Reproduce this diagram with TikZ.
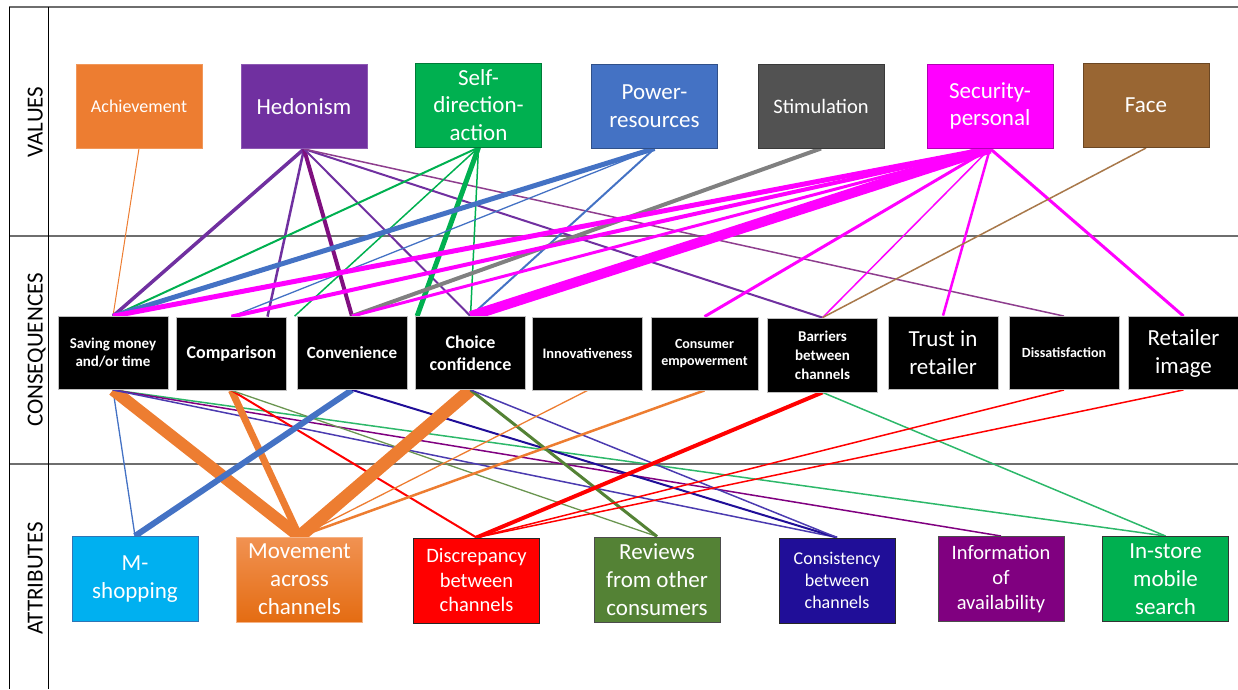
\documentclass[tikz,border=0pt]{standalone}
\usepackage{fontspec}
\setmainfont{Carlito}
\pgfdeclarelayer{bg}
\pgfsetlayers{bg,main}
% box fills
\definecolor{cAch}{HTML}{ED7D31}
\definecolor{cHed}{HTML}{7030A0}
\definecolor{cHedD}{HTML}{7F0F7F}
\definecolor{cHedL}{HTML}{8E3E8E}
\definecolor{cSda}{HTML}{00B050}
\definecolor{cPow}{HTML}{4472C4}
\definecolor{cSti}{HTML}{525252}
\definecolor{cStiL}{HTML}{808080}
\definecolor{cSec}{HTML}{FF00FF}
\definecolor{cFac}{HTML}{996633}
\definecolor{cFacL}{HTML}{A8784A}
\definecolor{cMsh}{HTML}{00B0F0}
\definecolor{cMshB}{HTML}{2E75B6}
\definecolor{cMovT}{HTML}{F19252}
\definecolor{cMovB}{HTML}{E46C12}
\definecolor{cDsc}{HTML}{FF0000}
\definecolor{cRev}{HTML}{548235}
\definecolor{cRevL}{HTML}{6A9550}
\definecolor{cCst}{HTML}{200E98}
\definecolor{cCstL}{HTML}{4B3BB0}
\definecolor{cInf}{HTML}{800080}
\definecolor{cIns}{HTML}{00B050}
\definecolor{cInsL}{HTML}{2DB86A}
\definecolor{cFrame}{HTML}{6E6E6E}
\begin{document}
\begin{tikzpicture}[x=1pt,y=-1pt,
  valbox/.style={draw=#1!70!black, fill=#1, line width=1pt, minimum width=126pt, minimum height=84pt,
    inner sep=0pt, text=white, align=center, font=\fontsize{23}{27.5}\selectfont},
  conbox/.style={draw=gray!50, fill=black, line width=0.8pt, minimum width=110pt, minimum height=73pt,
    inner sep=0pt, text=white, align=center},
  attbox/.style={draw=#1!70!black, fill=#1, line width=1pt, minimum width=126pt, minimum height=85pt,
    inner sep=0pt, text=white, align=center, font=\fontsize{23}{28}\selectfont},
  rowlabel/.style={rotate=90, anchor=base, font=\fontsize{23}{27}\selectfont},
  lk/.style 2 args={draw=#1, line width=#2}
]
\useasboundingbox (0,0) rectangle (1238,689);

% ---------- values ----------
\node[valbox=cAch, draw=cAch!80!white, font=\fontsize{18}{22}\selectfont] (ach) at (139,106) {Achievement};
\node[valbox=cHed, draw=cHed!80!white] (hed) at (304,106.5) {Hedonism};
\node[valbox=cSda] (sda) at (478.5,105) {Self-\\direction-\\action};
\node[valbox=cPow] (pow) at (654.5,106) {Power-\\resources};
\node[valbox=cSti, font=\fontsize{20.5}{25}\selectfont] (sti) at (821,106) {Stimulation};
\node[valbox=cSec] (sec) at (990,106) {Security-\\personal};
\node[valbox=cFac] (fac) at (1146,105.5) {Face};

% ---------- consequences ----------
\node[conbox, font=\bfseries\fontsize{15}{18}\selectfont] (sav) at (113,353) {Saving money\\and/or time};
\node[conbox, font=\bfseries\fontsize{18}{22}\selectfont] (cmp) at (231.5,353.5) {Comparison};
\node[conbox, font=\bfseries\fontsize{17}{21}\selectfont] (cnv) at (352,353) {Convenience};
\node[conbox, font=\bfseries\fontsize{18}{22}\selectfont] (cho) at (470.5,353) {Choice\\confidence};
\node[conbox, font=\bfseries\fontsize{14.5}{18}\selectfont] (inn) at (587.5,353.5) {Innovativeness};
\node[conbox, font=\bfseries\fontsize{14}{17.5}\selectfont, minimum width=107pt] (emp) at (704.5,353.5) {Consumer\\empowerment};
\node[conbox, font=\bfseries\fontsize{15}{19}\selectfont, minimum height=74pt] (bar) at (822.5,355) {Barriers\\between\\channels};
\node[conbox, font=\fontsize{23}{28}\selectfont] (tru) at (943,352.5) {Trust in\\retailer};
\node[conbox, font=\bfseries\fontsize{14}{17}\selectfont] (dis) at (1064,353) {Dissatisfaction};
\node[conbox, font=\fontsize{23}{28}\selectfont] (ret) at (1183.5,353) {Retailer\\image};

% ---------- attributes ----------
\node[attbox=cMsh, draw=cMshB] (msh) at (135,579) {M-\\shopping};
\node[attbox=cMovB, draw=cMovT!70!white, top color=cMovT, bottom color=cMovB] (mov) at (299.5,579.5) {Movement\\across\\channels};
\node[attbox=cDsc, draw=black!85, font=\fontsize{20.5}{24.5}\selectfont] (dsc) at (476.5,580.5) {Discrepancy\\between\\channels};
\node[attbox=cRev, draw=black!70] (rev) at (657,579.5) {Reviews\\from other\\consumers};
\node[attbox=cCst, draw=black!85, minimum width=116pt, font=\fontsize{18}{22}\selectfont] (cst) at (837,580.5) {Consistency\\between\\channels};
\node[attbox=cInf, draw=black!70, font=\fontsize{20.5}{25}\selectfont] (inf) at (1001,579) {Information\\of\\availability};
\node[attbox=cIns, draw=black!80] (ins) at (1165.5,579) {In-store\\mobile\\search};

% ---------- row labels ----------
\node[rowlabel] (lv) at (42.5,122) {VALUES};
\node[rowlabel] (lc) at (42.5,350) {CONSEQUENCES};
\node[rowlabel] (la) at (42.5,578.5) {ATTRIBUTES};

\begin{pgfonlayer}{bg}
  % frame of the three bands
  \draw[cFrame, line width=1.6pt] (9,7) -- (1238,7);
  \draw[cFrame, line width=1.6pt] (9,236) -- (1238,236);
  \draw[cFrame, line width=1.6pt] (9,464) -- (1238,464);
  \draw[black, line width=1.2pt] (9.5,6.5) -- (9.5,689);
  \draw[black, line width=1.2pt] (48.5,7) -- (48.5,689);

  % values -> consequences
  \draw[lk={cAch}{1}] (ach.south) -- (sav.north);

  \draw[lk={cHed}{3.5}] (hed.south) -- (sav.north);
  \draw[lk={cHed}{2.5}] (hed.south) -- ([xshift=36pt]cmp.north);
  \draw[lk={cHedD}{4}] (hed.south) -- (cnv.north);
  \draw[lk={cHed}{2}] (hed.south) -- (cho.north);
  \draw[lk={cHed}{2}] (hed.south) -- (bar.north);
  \draw[lk={cHedL}{1.5}] (hed.south) -- (dis.north);

  \draw[lk={cSda}{2}] (sda.south) -- (sav.north);
  \draw[lk={cSda}{1.5}] (sda.south) -- ([xshift=-2pt]cnv.north west);
  \draw[lk={cSda}{5}] (sda.south) -- ([xshift=2pt]cho.north west);
  \draw[lk={cSda}{1.5}] (sda.south) -- (cho.north);

  \draw[lk={cPow}{5}] (pow.south) -- (sav.north);
  \draw[lk={cPow}{1.3}] (pow.south) -- (cmp.north);
  \draw[lk={cPow}{2}] (pow.south) -- (cho.north);

  \draw[lk={cStiL}{4}] (sti.south) -- (cnv.north);

  \draw[lk={cSec}{5}] (sec.south) -- (sav.north);
  \draw[lk={cSec}{4}] (sec.south) -- (cmp.north);
  \draw[lk={cSec}{3}] (sec.south) -- (cnv.north);
  \draw[lk={cSec}{10}] (sec.south) -- (cho.north);
  \draw[lk={cSec}{3}] (sec.south) -- (emp.north);
  \draw[lk={cSec}{1.5}] (sec.south) -- (bar.north);
  \draw[lk={cSec}{2.5}] (sec.south) -- (tru.north);
  \draw[lk={cSec}{3}] (sec.south) -- (ret.north);

  \draw[lk={cFacL}{1.5}] (fac.south) -- (bar.north);

  % consequences -> attributes
  \draw[lk={cPow}{1.3}] (sav.south) -- (msh.north);
  \draw[lk={cAch}{12}] (sav.south) -- (mov.north);
  \draw[lk={cInsL}{1.5}] (sav.south) -- (ins.north);
  \draw[lk={cInf}{1.5}] (sav.south) -- (inf.north);
  \draw[lk={cCstL}{1.5}] (sav.south) -- (cst.north);

  \draw[lk={cAch}{7}] (cmp.south) -- (mov.north);
  \draw[lk={cDsc}{2}] (cmp.south) -- (dsc.north);
  \draw[lk={cRevL}{1.3}] (cmp.south) -- (rev.north);

  \draw[lk={cPow}{6}] (cnv.south) -- (msh.north);
  \draw[lk={cCst}{2}] (cnv.south) -- (cst.north);

  \draw[lk={cAch}{13}] (cho.south) -- (mov.north);
  \draw[lk={cRev}{3}] (cho.south) -- (rev.north);
  \draw[lk={cCstL}{1.5}] (cho.south) -- (cst.north);

  \draw[lk={cAch}{1.3}] (inn.south) -- (mov.north);
  \draw[lk={cAch}{2.5}] (emp.south) -- (mov.north);

  \draw[lk={cDsc}{4}] (bar.south) -- (dsc.north);
  \draw[lk={cInsL}{1.5}] (bar.south) -- (ins.north);

  \draw[lk={cDsc}{1.5}] (dis.south) -- (dsc.north);
  \draw[lk={cDsc}{1.5}] (ret.south) -- (dsc.north);
\end{pgfonlayer}
\end{tikzpicture}
\end{document}
